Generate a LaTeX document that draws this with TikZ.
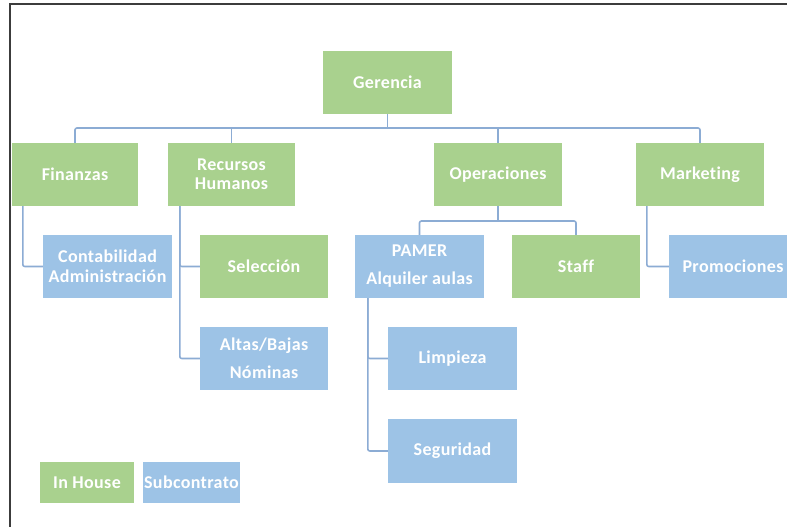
\documentclass[tikz,border=0pt]{standalone}
\usepackage{fontspec}
\setmainfont[LetterSpace=2, Ligatures={NoCommon}]{Carlito}
\definecolor{gfill}{RGB}{169,209,142}
\definecolor{bfill}{RGB}{157,195,230}
\definecolor{lnk}{RGB}{140,172,212}
\definecolor{frame}{RGB}{60,60,60}
\tikzset{
  box/.style={rectangle, inner sep=1pt, text=white, align=center,
    font=\fontsize{18}{20}\selectfont\bfseries, minimum width=128pt, minimum height=63pt},
  gbox/.style={box, fill=gfill},
  bbox/.style={box, fill=bfill},
  link/.style={draw=lnk, line width=1.6pt, rounded corners=2pt}
}
\begin{document}
\begin{tikzpicture}[x=1pt,y=-1pt]
\useasboundingbox (0,0) rectangle (787,527);
\fill[white] (0,0) rectangle (787,527);
\draw[frame, line width=1.5pt] (10,527) -- (10,4) -- (787,4);

\node[gbox, minimum width=129pt] (ger) at (387.5,82.5) {Gerencia};
\node[gbox, minimum width=126pt] (fin) at (75,174.5) {Finanzas};
\node[gbox, minimum width=127pt] (rh) at (231.5,174.5) {Recursos\\[-1pt]Humanos};
\node[gbox] (ops) at (498,174.5) {Operaciones};
\node[gbox] (mkt) at (700,174.5) {Marketing};

\node[bbox, minimum width=129pt] (cont) at (107.5,266.5) {Contabilidad\\Administración};
\node[gbox] (sel) at (264,266.5) {Selección};
\node[bbox] (alt) at (264,358.5) {Altas/Bajas\\[8pt]Nóminas};
\node[bbox, minimum width=129pt] (pam) at (419.5,266.5) {PAMER\\[8pt]Alquiler aulas};
\node[gbox] (stf) at (576,266.5) {Staff};
\node[bbox] (prom) at (733,266.5) {Promociones};
\node[bbox, minimum width=129pt] (lim) at (452.5,358.5) {Limpieza};
\node[bbox, minimum width=129pt, minimum height=64pt] (seg) at (452.5,451) {Seguridad};

\node[gbox, minimum width=94pt, minimum height=41pt] (inh) at (87,482.5) {In House};
\node[bbox, minimum width=95pt, minimum height=41pt] (sub) at (191.5,482.5) {Subcontrato};

\coordinate (bus) at (0,128);
\coordinate (obus) at (0,221);

\draw[link] (ger.south) -- (ger.south |- bus);
\draw[link] (fin.north) -- (fin.north |- bus) -- (mkt.north |- bus) -- (mkt.north);
\draw[link] (rh.north) -- (rh.north |- bus);
\draw[link] (ops.north) -- (ops.north |- bus);

\draw[link] ([xshift=11pt]fin.south west) |- (cont.west);
\draw[link] ([xshift=12pt]rh.south west) |- (sel.west);
\draw[link] ([xshift=12pt]rh.south west) |- (alt.west);

\draw[link] (ops.south) -- (ops.south |- obus);
\draw[link] (pam.north) -- (pam.north |- obus) -- (stf.north |- obus) -- (stf.north);

\draw[link] ([xshift=13pt]pam.south west) |- (lim.west);
\draw[link] ([xshift=13pt]pam.south west) |- (seg.west);

\draw[link] ([xshift=11pt]mkt.south west) |- (prom.west);
\end{tikzpicture}
\end{document}
